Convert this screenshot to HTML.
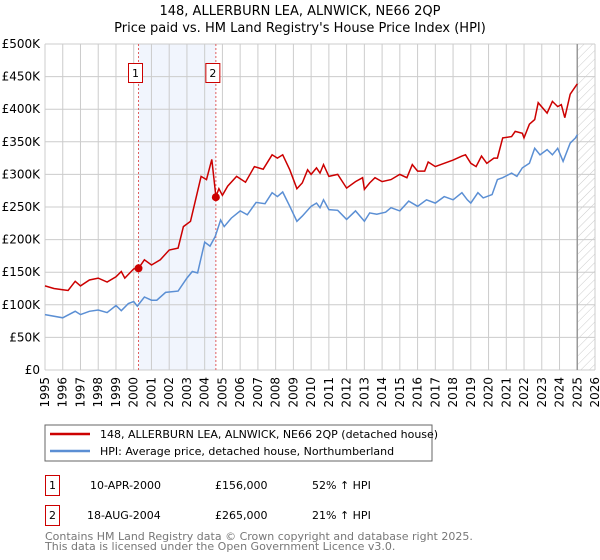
<!DOCTYPE html>
<html><head><meta charset="utf-8"><style>
body{margin:0;background:#fff;}
svg{display:block;font-family:"DejaVu Sans","Liberation Sans",sans-serif;}
</style></head><body>
<svg id="chart" width="600" height="560" viewBox="0 0 600 560">
<defs><pattern id="hatch" width="6" height="6" patternUnits="userSpaceOnUse" patternTransform="rotate(45)"><line x1="0" y1="0" x2="0" y2="6" stroke="#ccc" stroke-width="1"/></pattern></defs>
<text x="300" y="15" text-anchor="middle" font-size="13">148, ALLERBURN LEA, ALNWICK, NE66 2QP</text>
<text x="300" y="32" text-anchor="middle" font-size="13">Price paid vs. HM Land Registry's House Price Index (HPI)</text>
<g id="grid"></g><g id="marks"></g>
<g>
<rect x="45" y="425" width="387" height="36" fill="#fff" stroke="#666"/>
<line x1="50" y1="434" x2="90" y2="434" stroke="#cc0000" stroke-width="2.5"/>
<text x="100" y="438" font-size="11">148, ALLERBURN LEA, ALNWICK, NE66 2QP (detached house)</text>
<line x1="50" y1="451" x2="90" y2="451" stroke="#5b8fd4" stroke-width="2.5"/>
<text x="100" y="455" font-size="11">HPI: Average price, detached house, Northumberland</text>
</g>
<g font-size="11">
<rect x="45.5" y="475.5" width="14" height="20" fill="#fff" stroke="#cc0000"/>
<text x="52.5" y="489" text-anchor="middle">1</text>
<text x="90" y="489">10-APR-2000</text>
<text x="215" y="489">£156,000</text>
<text x="312" y="489">52% ↑ HPI</text>
<rect x="45.5" y="505.5" width="14" height="20" fill="#fff" stroke="#cc0000"/>
<text x="52.5" y="519" text-anchor="middle">2</text>
<text x="87" y="519">18-AUG-2004</text>
<text x="215" y="519">£265,000</text>
<text x="312" y="519">21% ↑ HPI</text>
</g>
<text x="45" y="540" font-size="11" fill="#777">Contains HM Land Registry data © Crown copyright and database right 2025.</text>
<text x="45" y="550" font-size="11" fill="#777">This data is licensed under the Open Government Licence v3.0.</text>
</svg>
<script>
const yTicks=[0,50,100,150,200,250,300,350,400,450,500];
const yTickLabels=["£0","£50K","£100K","£150K","£200K","£250K","£300K","£350K","£400K","£450K","£500K"];
const xYears=[1995,1996,1997,1998,1999,2000,2001,2002,2003,2004,2005,2006,2007,2008,2009,2010,2011,2012,2013,2014,2015,2016,2017,2018,2019,2020,2021,2022,2023,2024,2025,2026];
const redT=[1995,1995.5,1996,1996.3,1996.7,1997,1997.5,1998,1998.5,1999,1999.3,1999.5,2000,2000.27,2000.6,2001,2001.5,2002,2002.5,2002.8,2003.2,2003.8,2004.1,2004.4,2004.63,2004.8,2005,2005.3,2005.8,2006.3,2006.8,2007.3,2007.8,2008.1,2008.4,2008.8,2009.2,2009.5,2009.8,2010,2010.3,2010.5,2010.7,2011,2011.5,2012,2012.5,2012.9,2013,2013.3,2013.6,2014,2014.5,2015,2015.4,2015.7,2016,2016.4,2016.6,2017,2017.5,2018,2018.5,2018.7,2019,2019.3,2019.6,2019.9,2020.3,2020.5,2020.8,2021.3,2021.5,2021.9,2022,2022.3,2022.6,2022.8,2023.3,2023.6,2023.9,2024.1,2024.3,2024.6,2024.9,2025];
const redV=[129,125,123,122,136,129,138,141,135,143,151,141,155,156,169,161,169,184,187,220,228,297,292,323,266,278,268,282,297,288,312,308,330,325,330,307,278,287,307,300,310,302,315,297,300,279,289,295,277,287,295,289,292,300,295,315,305,305,319,312,317,322,328,330,317,312,328,317,325,325,356,358,366,363,356,377,384,410,394,412,404,407,387,423,435,439];
const blueT=[1995,1996,1996.7,1997,1997.5,1998,1998.5,1999,1999.3,1999.7,2000,2000.2,2000.6,2001,2001.3,2001.8,2002.5,2003,2003.3,2003.6,2004,2004.3,2004.6,2004.9,2005.1,2005.5,2006,2006.4,2006.9,2007.4,2007.8,2008.1,2008.4,2008.8,2009.2,2009.5,2010,2010.3,2010.5,2010.7,2011,2011.5,2012,2012.5,2013,2013.3,2013.7,2014.2,2014.5,2015,2015.5,2016,2016.5,2017,2017.5,2018,2018.5,2018.8,2019,2019.4,2019.7,2020.2,2020.5,2020.8,2021.3,2021.6,2021.9,2022.3,2022.6,2022.9,2023.3,2023.6,2023.9,2024.2,2024.6,2024.9,2025];
const blueV=[85,80,90,85,90,92,88,99,91,102,105,98,112,107,107,119,121,141,151,149,196,190,205,230,220,233,244,238,257,255,272,266,273,251,228,236,251,256,249,261,246,245,231,244,228,241,239,242,249,244,259,251,261,256,266,261,272,261,256,272,264,269,292,295,302,297,310,317,340,330,338,330,340,320,348,356,361];
const saleT=[2000.27,2004.63];
const saleV=[156,265];
const saleLabels=["1","2"];
const X0=45,X1=595,Y0=370,Y1=44;
const x=t=>X0+(t-1995)/(2026-1995)*(X1-X0);
const y=v=>Y0-v/500*(Y0-Y1);
const NS="http://www.w3.org/2000/svg";
const grid=document.getElementById('grid'),marks=document.getElementById('marks');
function mk(p,tag,a){const e=document.createElementNS(NS,tag);for(const k in a)e.setAttribute(k,a[k]);p.appendChild(e);return e;}
let band=mk(grid,'rect',{x:x(saleT[0]),y:Y1,width:x(saleT[1])-x(saleT[0]),height:Y0-Y1,fill:'#eef3fc',opacity:0.8});


let hatch=mk(grid,'rect',{x:x(2025),y:Y1,width:X1-x(2025),height:Y0-Y1,fill:'url(#hatch)'});


yTicks.forEach((v,i)=>{
 let l=mk(grid,'line',{x1:X0,x2:X1,y1:y(v),y2:y(v),stroke:'#ccc','stroke-width':1});
 
 
 let t=mk(grid,'text',{x:X0-5,y:y(v)+4,'text-anchor':'end','font-size':12});
 
 
 t.textContent=yTickLabels[i];
});
xYears.forEach(yr=>{
 let l=mk(grid,'line',{x1:x(yr),x2:x(yr),y1:Y1,y2:Y0,stroke:'#ccc','stroke-width':1});
 
 
 let t=mk(grid,'text',{x:0,y:0,'text-anchor':'end','font-size':12,transform:`translate(${x(yr)+4},${Y0+7}) rotate(-90)`});
 
 
 t.textContent=yr;
});
let nl=mk(grid,'line',{x1:x(2025),x2:x(2025),y1:Y1,y2:Y0,stroke:'#999','stroke-width':1.5});


saleT.forEach((t,i)=>{
 let l=mk(marks,'line',{x1:x(t),x2:x(t),y1:Y1,y2:Y0,stroke:'#e06060','stroke-width':1,'stroke-dasharray':'2,2'});
 
 
 let r=mk(marks,'rect',{x:x(t)-10,y:63.5,width:14,height:19,fill:'#fff',stroke:'#cc0000'});
 
 
 let tx=mk(marks,'text',{x:x(t)-3,y:77,'text-anchor':'middle','font-size':11});
 
 
 tx.textContent=saleLabels[i];
});
function path(T,V){return T.map((t,i)=>(i?'L':'M')+x(t).toFixed(1)+','+y(V[i]).toFixed(1)).join('');}
let pb=mk(marks,'path',{d:path(blueT,blueV),fill:'none',stroke:'#5b8fd4','stroke-width':1.5});


let pr=mk(marks,'path',{d:path(redT,redV),fill:'none',stroke:'#cc0000','stroke-width':1.5});


saleT.forEach((t,i)=>{
 let c=mk(marks,'circle',{cx:x(t),cy:y(saleV[i]),r:4,fill:'#cc0000'});
 
 
});
</script>
</body></html>
